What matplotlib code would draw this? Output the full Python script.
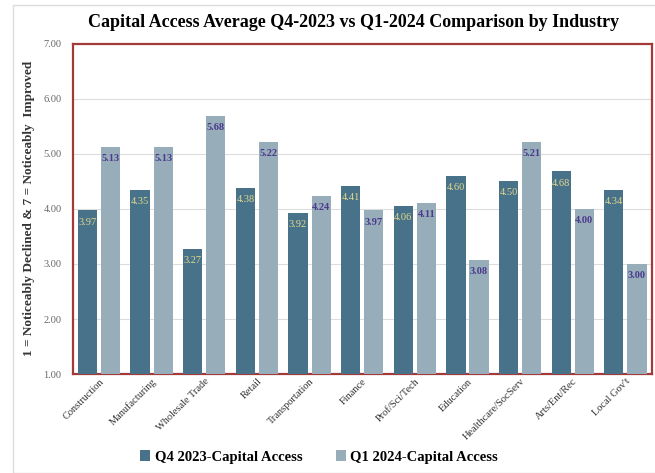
import matplotlib.pyplot as plt
import numpy as np

industries = ["Construction", "Manufacturing", "Wholesale Trade", "Retail",
              "Transportation", "Finance", "Prof/Sci/Tech", "Education",
              "Healthcare/SocServ", "Arts/Ent/Rec", "Local Gov't"]
q4_2023 = [3.97, 4.35, 3.27, 4.38, 3.92, 4.41, 4.06, 4.60, 4.50, 4.68, 4.34]
q1_2024 = [5.13, 5.13, 5.68, 5.22, 4.24, 3.97, 4.11, 3.08, 5.21, 4.00, 3.00]

dark = "#47728a"
light = "#98adba"

plt.rcParams['font.family'] = ['Liberation Serif', 'DejaVu Serif']

fig = plt.figure(figsize=(6.55, 4.73), dpi=100)
ax = fig.add_axes([0.111, 0.209, 0.884, 0.699])

x = np.arange(len(industries))
w = 0.365
b1 = ax.bar(x - 0.22, np.array(q4_2023) - 1, w, bottom=1, color=dark,
            label="Q4 2023-Capital Access", zorder=3)
b2 = ax.bar(x + 0.22, np.array(q1_2024) - 1, w, bottom=1, color=light,
            label="Q1 2024-Capital Access", zorder=3)

for xi, v in zip(x, q4_2023):
    ax.text(xi - 0.22, v - 0.13, f"{v:.2f}", ha='center', va='top',
            fontsize=7.5, color="#e3d98a", zorder=4)
for xi, v in zip(x, q1_2024):
    ax.text(xi + 0.22, v - 0.13, f"{v:.2f}", ha='center', va='top',
            fontsize=7.5, color="#4a3a8c", fontweight='bold', zorder=4)

ax.set_xlim(-0.5, len(industries) - 0.5)
ax.set_ylim(1, 7)
ax.set_yticks(np.arange(1, 8))
ax.set_yticklabels([f"{t:.2f}" for t in range(1, 8)], fontsize=7.5, color="#666666")
ax.yaxis.grid(True, color="#dddddd", linewidth=0.8, zorder=0)
ax.tick_params(axis='y', length=0, pad=8)
ax.tick_params(axis='x', length=0, pad=2)
ax.set_xticks(x)
ax.set_xticklabels(industries, rotation=45, ha='right', rotation_mode='anchor',
                   fontsize=7.5, color="#333333")

for s in ax.spines.values():
    s.set_color("#a33a3a")
    s.set_linewidth(1.6)

ax.set_ylabel("1 = Noticeably Declined & 7 = Noticeably  Improved",
              fontsize=9.5, fontweight='bold', color="#333333", labelpad=6)

fig.suptitle("Capital Access Average Q4-2023 vs Q1-2024 Comparison by Industry",
             x=0.54, y=0.97, fontsize=13, fontweight='bold')

fig.legend(handles=[b1, b2], loc='lower center', bbox_to_anchor=(0.487, -0.008),
           ncol=2, frameon=False, handlelength=0.7,
           handleheight=0.7, handletextpad=0.3, columnspacing=2.3,
           prop={'weight': 'bold', 'size': 10.5})

# light frame around the whole figure
fig.patches.append(plt.Rectangle((0.02, 0.0), 0.985, 0.99, transform=fig.transFigure,
                                 fill=False, edgecolor="#dcdcdc", linewidth=1))

fig.savefig("out.png", dpi=100)
